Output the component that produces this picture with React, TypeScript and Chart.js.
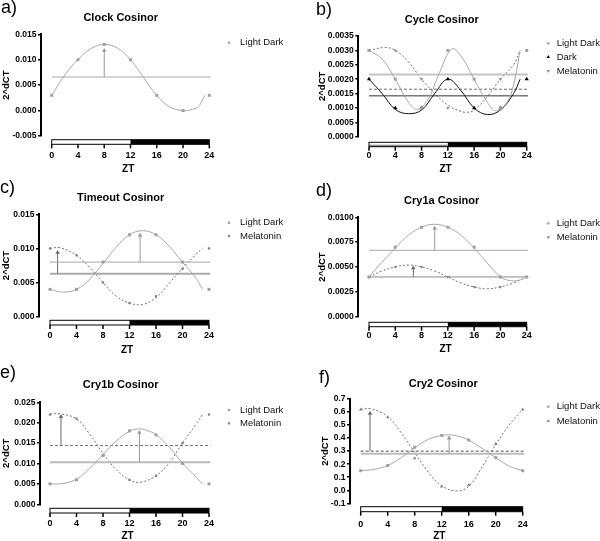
import React, { useEffect, useRef } from "react";
import { Chart, registerables } from "chart.js";
Chart.register(...registerables);

const FONT = 'Arial, "Liberation Sans", Helvetica, sans-serif';

// ---------- shared ----------
const ZT = [0, 4, 8, 12, 16, 20, 24];
const X_TICKS = [0, 4, 8, 12, 16, 20, 24];

// ---------- a) Clock ----------
const clockYTicks = [-0.005, 0, 0.005, 0.01, 0.015];
const clockYLabels = ["-0.005", "0.000", "0.005", "0.010", "0.015"];
const clockLD = [0.003, 0.01, 0.013, 0.01, 0.003, 0.0, 0.003];
const clockFitX = [0, 2, 4, 6, 8, 10, 12, 14, 16, 18, 20, 21, 22, 22.5, 23.3];
const clockFitLD = [0.003, 0.007, 0.01, 0.0122, 0.013, 0.0123, 0.01, 0.0065, 0.003, 0.0007, 0.0, 0.0001, 0.0005, 0.001, 0.003];
const clockMesorLD = 0.0066;
const clockArrowLD = [8, 0.0118];

// ---------- b) Cycle ----------
const cycleYTicks = [0, 0.0005, 0.001, 0.0015, 0.002, 0.0025, 0.003, 0.0035];
const cycleYLabels = ["0.0000", "0.0005", "0.0010", "0.0015", "0.0020", "0.0025", "0.0030", "0.0035"];
const cycleLD = [0.003, 0.002, 0.001, 0.003, 0.002, 0.001, 0.003];
const cycleDark = [0.002, 0.001, 0.001, 0.002, 0.001, 0.001, 0.002];
const cycleMel = [0.003, 0.003, 0.002, 0.001, 0.001, 0.002, 0.003];
const cycleFitXLD = [0, 2, 4, 6, 7.3, 9, 10.5, 12.6, 14, 16, 18, 19.3, 21, 22, 23];
const cycleFitLD = [0.003, 0.0027, 0.002, 0.0012, 0.00095, 0.0013, 0.0021, 0.00305, 0.0028, 0.002, 0.0012, 0.0009, 0.0012, 0.0018, 0.003];
const cycleFitXDark = [0, 2, 4, 6, 8, 10, 12, 14, 16, 18, 20, 22, 23];
const cycleFitDark = [0.002, 0.0015, 0.00095, 0.0008, 0.00093, 0.0015, 0.002, 0.0016, 0.001, 0.00077, 0.00093, 0.0015, 0.002];
const cycleFitXMel = [0, 2.5, 4, 6, 8, 10, 12, 14, 15, 16, 18, 20, 22, 23];
const cycleFitMel = [0.003, 0.0031, 0.003, 0.0026, 0.002, 0.0015, 0.0011, 0.00088, 0.00085, 0.00092, 0.0014, 0.002, 0.0025, 0.003];
const cycleMesorLD = 0.00216;
const cycleMesorDark = 0.00142;
const cycleMesorMel = 0.00165;

// ---------- c) Timeout ----------
const timeoutYTicks = [0, 0.005, 0.01, 0.015];
const timeoutYLabels = ["0.000", "0.005", "0.010", "0.015"];
const timeoutLD = [0.004, 0.004, 0.008, 0.012, 0.012, 0.008, 0.004];
const timeoutMel = [0.01, 0.009, 0.005, 0.002, 0.003, 0.007, 0.01];
const timeoutFitXLD = [0, 2, 4, 6, 8, 10, 12, 14, 16, 18, 20, 22, 23];
const timeoutFitLD = [0.004, 0.0036, 0.004, 0.0055, 0.0078, 0.0102, 0.012, 0.0126, 0.012, 0.0103, 0.008, 0.0057, 0.004];
const timeoutFitXMel = [0, 1.5, 4, 6, 8, 10, 12, 14, 16, 18, 20, 22, 23];
const timeoutFitMel = [0.01, 0.0101, 0.009, 0.0072, 0.005, 0.003, 0.002, 0.0018, 0.0028, 0.0049, 0.0071, 0.0091, 0.01];
const timeoutMesorLD = 0.008;
const timeoutMesorMel = 0.0063;
const timeoutArrowLD = [13.6, 0.0119];
const timeoutArrowMel = [1.15, 0.0094];

// ---------- d) Cry1a ----------
const cry1aYTicks = [0, 0.0025, 0.005, 0.0075, 0.01];
const cry1aYLabels = ["0.0000", "0.0025", "0.0050", "0.0075", "0.0100"];
const cry1aLD = [0.004, 0.007, 0.009, 0.009, 0.007, 0.004, 0.004];
const cry1aMel = [0.004, 0.005, 0.005, 0.004, 0.003, 0.003, 0.004];
const cry1aFitXLD = [0, 2, 4, 6, 8, 10, 12, 14, 16, 18, 20, 21, 22, 23, 24];
const cry1aFitLD = [0.004, 0.0055, 0.0069, 0.0082, 0.009, 0.0093, 0.009, 0.0082, 0.0069, 0.0054, 0.004, 0.0037, 0.0036, 0.0037, 0.004];
const cry1aFitXMel = [0, 2, 4, 6, 8, 10, 12, 14, 16, 18, 20, 22, 24];
const cry1aFitMel = [0.004, 0.0046, 0.005, 0.0052, 0.005, 0.0046, 0.004, 0.0034, 0.003, 0.0028, 0.003, 0.0034, 0.004];
const cry1aMesorLD = 0.00668;
const cry1aMesorMel = 0.004;
const cry1aArrowLD = [10, 0.0089];
const cry1aArrowMel = [6.75, 0.0049];

// ---------- e) Cry1b ----------
const cry1bYTicks = [0, 0.005, 0.01, 0.015, 0.02, 0.025];
const cry1bYLabels = ["0.000", "0.005", "0.010", "0.015", "0.020", "0.025"];
const cry1bLD = [0.005, 0.006, 0.012, 0.018, 0.017, 0.01, 0.005];
const cry1bMel = [0.022, 0.021, 0.012, 0.006, 0.007, 0.015, 0.022];
const cry1bFitXLD = [0, 2, 4, 6, 8, 10, 12, 13.5, 15, 16, 18, 20, 22, 23];
const cry1bFitLD = [0.005, 0.0051, 0.0062, 0.0088, 0.0122, 0.0155, 0.0179, 0.0185, 0.0179, 0.0171, 0.014, 0.0101, 0.0068, 0.005];
const cry1bFitXMel = [0, 1.5, 4, 6, 8, 10, 12, 13.6, 16, 18, 20, 22, 23];
const cry1bFitMel = [0.0221, 0.0222, 0.0209, 0.0172, 0.0125, 0.0085, 0.006, 0.0054, 0.007, 0.0102, 0.015, 0.0195, 0.022];
const cry1bMesorLD = 0.0103;
const cry1bMesorMel = 0.0144;
const cry1bArrowLD = [13.5, 0.0176];
const cry1bArrowMel = [1.66, 0.0215];

// ---------- f) Cry2 ----------
const cry2YTicks = [-0.1, 0, 0.1, 0.2, 0.3, 0.4, 0.5, 0.6, 0.7];
const cry2YLabels = ["-0.1", "0.0", "0.1", "0.2", "0.3", "0.4", "0.5", "0.6", "0.7"];
const cry2LD = [0.15, 0.19, 0.33, 0.42, 0.385, 0.25, 0.15];
const cry2Mel = [0.62, 0.56, 0.245, 0.028, 0.04, 0.355, 0.62];
const cry2FitXLD = [0, 2, 4, 6, 8, 10, 12, 13, 14, 16, 18, 20, 22, 24];
const cry2FitLD = [0.15, 0.16, 0.19, 0.25, 0.325, 0.39, 0.42, 0.425, 0.42, 0.385, 0.32, 0.25, 0.185, 0.15];
const cry2FitXMel = [0, 1.5, 4, 6, 8, 10, 12, 14.2, 16, 18, 20, 22, 24];
const cry2FitMel = [0.62, 0.625, 0.565, 0.44, 0.29, 0.14, 0.035, -0.005, 0.03, 0.18, 0.35, 0.5, 0.62];
const cry2MesorLD = 0.28;
const cry2MesorMel = 0.3;
const cry2ArrowLD = [13.1, 0.4];
const cry2ArrowMel = [1.38, 0.59];

// ---------- styles ----------
const STYLE: any = {
  ld: { line: "#a8a8a8", dash: [], marker: "#a0a0a0", arrow: "#9a9a9a", legend: "#a0a0a0" },
  mel: { line: "#707070", dash: [2, 2], marker: "#808080", arrow: "#6a6a6a", legend: "#8a8a8a" },
  dark: { line: "#111111", dash: [], marker: "#000000", arrow: "#000000", legend: "#000000" },
};

const LAYOUT: any = {
  a: { left: 0, top: 0, w: 300, h: 180, axisX: 41, x0: 51.7, x24: 209.3, yTop: 34.3, yBot: 136, barTop: 139.7, barBot: 144.3, xLabelCY: 155.7, ztCY: 169, titleX: 120.7, titleY: 18.3, legMX: 229, legTX: 240, legY: 42.7, legDY: 13.5, letterX: 1, letterY: 8, yTitleX: 6 },
  b: { left: 300, top: 0, w: 300, h: 180, axisX: 58.3, x0: 69, x24: 226.7, yTop: 36, yBot: 136.7, barTop: 142.3, barBot: 146.7, xLabelCY: 155.7, ztCY: 169.3, titleX: 141.7, titleY: 20, legMX: 248.3, legTX: 256.7, legY: 43.3, legDY: 13.8, letterX: 16, letterY: 10, yTitleX: 22 },
  c: { left: 0, top: 180, w: 300, h: 180, axisX: 39, x0: 50, x24: 209, yTop: 34.3, yBot: 136.7, barTop: 140.3, barBot: 145, xLabelCY: 155.7, ztCY: 170, titleX: 120.7, titleY: 18.3, legMX: 229, legTX: 240, legY: 42.7, legDY: 13.3, letterX: 0, letterY: 8.5, yTitleX: 6 },
  d: { left: 300, top: 180, w: 300, h: 180, axisX: 58.3, x0: 69, x24: 226.7, yTop: 37.3, yBot: 136.7, barTop: 142.3, barBot: 146.7, xLabelCY: 155.7, ztCY: 169.3, titleX: 141.7, titleY: 20.7, legMX: 248.3, legTX: 256.7, legY: 43.3, legDY: 14, letterX: 16, letterY: 11, yTitleX: 22 },
  e: { left: 0, top: 360, w: 300, h: 181, axisX: 40, x0: 50, x24: 209, yTop: 42.3, yBot: 144.3, barTop: 148.3, barBot: 153, xLabelCY: 164, ztCY: 176.7, titleX: 120.7, titleY: 25, legMX: 229, legTX: 240, legY: 50, legDY: 13.3, letterX: 0, letterY: 13, yTitleX: 6 },
  f: { left: 300, top: 360, w: 300, h: 181, axisX: 50, x0: 60.7, x24: 222.7, yTop: 39, yBot: 143.3, barTop: 146.7, barBot: 151.7, xLabelCY: 164.3, ztCY: 176.7, titleX: 143.3, titleY: 24, legMX: 248.3, legTX: 256.7, legY: 46.7, legDY: 14.3, letterX: 19, letterY: 18.5, yTitleX: 25 },
};

const PANELS: any[] = [
  {
    key: "a", letter: "a)", title: "Clock Cosinor", yTicks: clockYTicks, yLabels: clockYLabels, barGray: false,
    series: [
      { name: "Light Dark", kind: "ld", shape: "rect", r: 2.1, markers: clockLD, fitX: clockFitX, fitY: clockFitLD, mesor: clockMesorLD, mesorW: 1, arrow: clockArrowLD },
    ],
  },
  {
    key: "b", letter: "b)", title: "Cycle Cosinor", yTicks: cycleYTicks, yLabels: cycleYLabels, barGray: true,
    series: [
      { name: "Light Dark", kind: "ld", shape: "rect", r: 2.1, markers: cycleLD, fitX: cycleFitXLD, fitY: cycleFitLD, mesor: cycleMesorLD, mesorW: 2, mesorColor: "#c4c4c4" },
      { name: "Dark", kind: "dark", shape: "triangle", r: 2.4, markers: cycleDark, fitX: cycleFitXDark, fitY: cycleFitDark, mesor: cycleMesorDark, mesorW: 1, mesorColor: "#333" },
      { name: "Melatonin", kind: "mel", shape: "triangleDown", r: 1.8, markers: cycleMel, fitX: cycleFitXMel, fitY: cycleFitMel, mesor: cycleMesorMel, mesorW: 1, mesorDash: [3, 2] },
    ],
  },
  {
    key: "c", letter: "c)", title: "Timeout Cosinor", yTicks: timeoutYTicks, yLabels: timeoutYLabels, barGray: false,
    series: [
      { name: "Light Dark", kind: "ld", shape: "rect", r: 2.1, markers: timeoutLD, fitX: timeoutFitXLD, fitY: timeoutFitLD, mesor: timeoutMesorLD, mesorW: 1, arrow: timeoutArrowLD },
      { name: "Melatonin", kind: "mel", shape: "rect", r: 1.6, markers: timeoutMel, fitX: timeoutFitXMel, fitY: timeoutFitMel, mesor: timeoutMesorMel, mesorW: 2, mesorColor: "#aaaaaa", mesorDash: [], arrow: timeoutArrowMel },
    ],
  },
  {
    key: "d", letter: "d)", title: "Cry1a Cosinor", yTicks: cry1aYTicks, yLabels: cry1aYLabels, barGray: false,
    series: [
      { name: "Light Dark", kind: "ld", shape: "rect", r: 2.1, markers: cry1aLD, fitX: cry1aFitXLD, fitY: cry1aFitLD, mesor: cry1aMesorLD, mesorW: 1, arrow: cry1aArrowLD },
      { name: "Melatonin", kind: "mel", shape: "triangleDown", r: 1.8, markers: cry1aMel, fitX: cry1aFitXMel, fitY: cry1aFitMel, mesor: cry1aMesorMel, mesorW: 1, mesorColor: "#8c8c8c", mesorDash: [], arrow: cry1aArrowMel },
    ],
  },
  {
    key: "e", letter: "e)", title: "Cry1b Cosinor", yTicks: cry1bYTicks, yLabels: cry1bYLabels, barGray: false,
    series: [
      { name: "Light Dark", kind: "ld", shape: "rect", r: 2.1, markers: cry1bLD, fitX: cry1bFitXLD, fitY: cry1bFitLD, mesor: cry1bMesorLD, mesorW: 2, mesorColor: "#bdbdbd", arrow: cry1bArrowLD },
      { name: "Melatonin", kind: "mel", shape: "rect", r: 1.6, markers: cry1bMel, fitX: cry1bFitXMel, fitY: cry1bFitMel, mesor: cry1bMesorMel, mesorW: 1, mesorDash: [3, 2], arrow: cry1bArrowMel },
    ],
  },
  {
    key: "f", letter: "f)", title: "Cry2 Cosinor", yTicks: cry2YTicks, yLabels: cry2YLabels, barGray: false,
    series: [
      { name: "Light Dark", kind: "ld", shape: "rect", r: 2.1, markers: cry2LD, fitX: cry2FitXLD, fitY: cry2FitLD, mesor: cry2MesorLD, mesorW: 2, mesorColor: "#bdbdbd", arrow: cry2ArrowLD },
      { name: "Melatonin", kind: "mel", shape: "triangle", r: 2.0, markers: cry2Mel, fitX: cry2FitXMel, fitY: cry2FitMel, mesor: cry2MesorMel, mesorW: 1, mesorColor: "#555555", mesorDash: [3, 2], arrow: cry2ArrowMel },
    ],
  },
];

function drawShape(ctx: CanvasRenderingContext2D, shape: string, x: number, y: number, r: number, color: string) {
  ctx.fillStyle = color;
  if (shape === "rect") {
    const s = r * 1.414;
    ctx.fillRect(x - s / 2, y - s / 2, s, s);
    return;
  }
  ctx.beginPath();
  if (shape === "triangle") {
    ctx.moveTo(x, y - r);
    ctx.lineTo(x + r * 0.87, y + r * 0.5);
    ctx.lineTo(x - r * 0.87, y + r * 0.5);
  } else {
    ctx.moveTo(x, y + r);
    ctx.lineTo(x + r * 0.87, y - r * 0.5);
    ctx.lineTo(x - r * 0.87, y - r * 0.5);
  }
  ctx.closePath();
  ctx.fill();
}

function Panel({ cfg }: { cfg: any }) {
  const ref = useRef<HTMLCanvasElement>(null);
  const L = LAYOUT[cfg.key];
  useEffect(() => {
    if (!ref.current) return;
    const ppu = (L.x24 - L.x0) / 24;
    const xMin = -(L.x0 - L.axisX) / ppu;
    const rightPx = L.x24 + 6;
    const xMax = 24 + 6 / ppu;
    const yMin = cfg.yTicks[0];
    const yMax = cfg.yTicks[cfg.yTicks.length - 1];

    const datasets: any[] = [];
    cfg.series.forEach((s: any) => {
      const st = STYLE[s.kind];
      datasets.push({
        data: s.markers.map((v: number, i: number) => ({ x: ZT[i], y: v })),
        showLine: false,
        pointStyle: s.shape === "rect" ? "rect" : "triangle",
        rotation: s.shape === "triangleDown" ? 180 : 0,
        pointRadius: s.r,
        pointBackgroundColor: st.marker,
        pointBorderWidth: 0,
        borderWidth: 0,
        clip: false,
      });
      if (s.arrow) {
        datasets.push({
          data: [{ x: s.arrow[0], y: s.mesor }, { x: s.arrow[0], y: s.arrow[1] }],
          borderColor: st.arrow,
          borderWidth: 1,
          pointStyle: "triangle",
          pointRadius: [0, 2.6],
          pointBackgroundColor: st.arrow,
          pointBorderWidth: 0,
          clip: false,
        });
      }
      datasets.push({
        data: s.fitX.map((x: number, i: number) => ({ x, y: s.fitY[i] })),
        borderColor: st.line,
        borderWidth: 1,
        borderDash: st.dash,
        pointRadius: 0,
        tension: 0.4,
        clip: false,
      });
      datasets.push({
        data: [{ x: 0, y: s.mesor }, { x: 24.2, y: s.mesor }],
        borderColor: s.mesorColor || st.line,
        borderWidth: s.mesorW,
        borderDash: s.mesorDash || st.dash,
        pointRadius: 0,
        clip: false,
      });
    });

    const deco = {
      id: "deco",
      afterDraw(chart: any) {
        const ctx = chart.ctx as CanvasRenderingContext2D;
        const xs = chart.scales.x;
        const p0 = xs.getPixelForValue(0);
        const p12 = xs.getPixelForValue(12);
        const p24 = xs.getPixelForValue(24);
        ctx.save();
        const bh = L.barBot - L.barTop;
        ctx.fillStyle = "#ffffff";
        ctx.fillRect(p0, L.barTop, p12 - p0, bh);
        if (cfg.barGray) {
          ctx.fillStyle = "#8f8f8f";
          ctx.fillRect(p0, L.barTop + bh * 0.55, p12 - p0, bh * 0.45);
        }
        ctx.fillStyle = "#000000";
        ctx.fillRect(p12, L.barTop, p24 - p12, bh);
        ctx.strokeStyle = "#000000";
        ctx.lineWidth = 1;
        ctx.strokeRect(p0, L.barTop, p24 - p0, bh);
        ctx.lineWidth = 1.5;
        X_TICKS.forEach((v) => {
          const px = xs.getPixelForValue(v);
          ctx.beginPath();
          ctx.moveTo(px, L.barBot);
          ctx.lineTo(px, L.barBot + 4);
          ctx.stroke();
        });
        ctx.fillStyle = "#000";
        ctx.textAlign = "center";
        ctx.textBaseline = "middle";
        ctx.font = `bold 11px ${FONT}`;
        ctx.fillText(cfg.title, L.titleX, L.titleY);
        ctx.textAlign = "left";
        ctx.font = `18px ${FONT}`;
        ctx.fillText(cfg.letter, L.letterX, L.letterY);
        ctx.font = `9.5px ${FONT}`;
        cfg.series.forEach((s: any, i: number) => {
          const y = L.legY + i * L.legDY;
          drawShape(ctx, s.shape, L.legMX, y, s.shape === "rect" ? 1.6 : 2, STYLE[s.kind].legend);
          ctx.fillStyle = "#111";
          ctx.fillText(s.name, L.legTX, y);
        });
        ctx.translate(L.yTitleX, (L.yTop + L.yBot) / 2);
        ctx.rotate(-Math.PI / 2);
        ctx.textAlign = "center";
        ctx.font = `bold 9.5px ${FONT}`;
        ctx.fillStyle = "#000";
        ctx.fillText("2^dCT", 0, 0);
        ctx.restore();
      },
    };

    const chart = new Chart(ref.current, {
      type: "line",
      data: { datasets },
      plugins: [deco],
      options: {
        responsive: false,
        maintainAspectRatio: false,
        animation: false,
        events: [],
        layout: { padding: { left: 0, top: L.yTop, right: L.w - rightPx, bottom: 0 } },
        plugins: { legend: { display: false }, title: { display: false }, tooltip: { enabled: false } },
        scales: {
          x: {
            type: "linear",
            min: xMin,
            max: xMax,
            afterBuildTicks: (s: any) => {
              s.ticks = X_TICKS.map((v) => ({ value: v }));
            },
            afterFit: (s: any) => {
              s.height = L.h - L.yBot;
            },
            grid: { display: false, drawTicks: false },
            border: { display: false },
            ticks: {
              padding: L.xLabelCY - L.yBot - 5.4,
              color: "#000",
              font: { family: FONT, size: 9, weight: "bold" },
              maxRotation: 0,
              autoSkip: false,
              callback: (v: any) => String(v),
            },
            title: {
              display: true,
              text: "ZT",
              color: "#000",
              font: { family: FONT, size: 10, weight: "bold" },
              padding: { top: 0, bottom: L.h - L.ztCY - 6 },
            },
          },
          y: {
            type: "linear",
            min: yMin,
            max: yMax,
            afterBuildTicks: (s: any) => {
              s.ticks = cfg.yTicks.map((v: number) => ({ value: v }));
            },
            afterFit: (s: any) => {
              s.width = L.axisX;
            },
            grid: { display: true, drawOnChartArea: false, drawTicks: true, tickLength: 3, color: "#000", lineWidth: 1.5 },
            border: { display: true, color: "#000", width: 2 },
            ticks: {
              padding: 1.5,
              autoSkip: false,
              color: "#000",
              font: { family: FONT, size: 8.5, weight: "bold" },
              callback: (_v: any, i: number) => cfg.yLabels[i],
            },
          },
        },
      } as any,
    });
    return () => chart.destroy();
  }, []);
  return (
    <canvas
      ref={ref}
      width={L.w}
      height={L.h}
      style={{ position: "absolute", left: L.left, top: L.top, width: L.w, height: L.h, display: "block" }}
    />
  );
}

export default function App() {
  useEffect(() => {
    document.body.style.margin = "0";
    document.body.style.background = "#fff";
  }, []);
  return (
    <div style={{ position: "relative", width: 600, height: 541, background: "#fff", overflow: "hidden" }}>
      {PANELS.map((p) => (
        <Panel key={p.key} cfg={p} />
      ))}
    </div>
  );
}
